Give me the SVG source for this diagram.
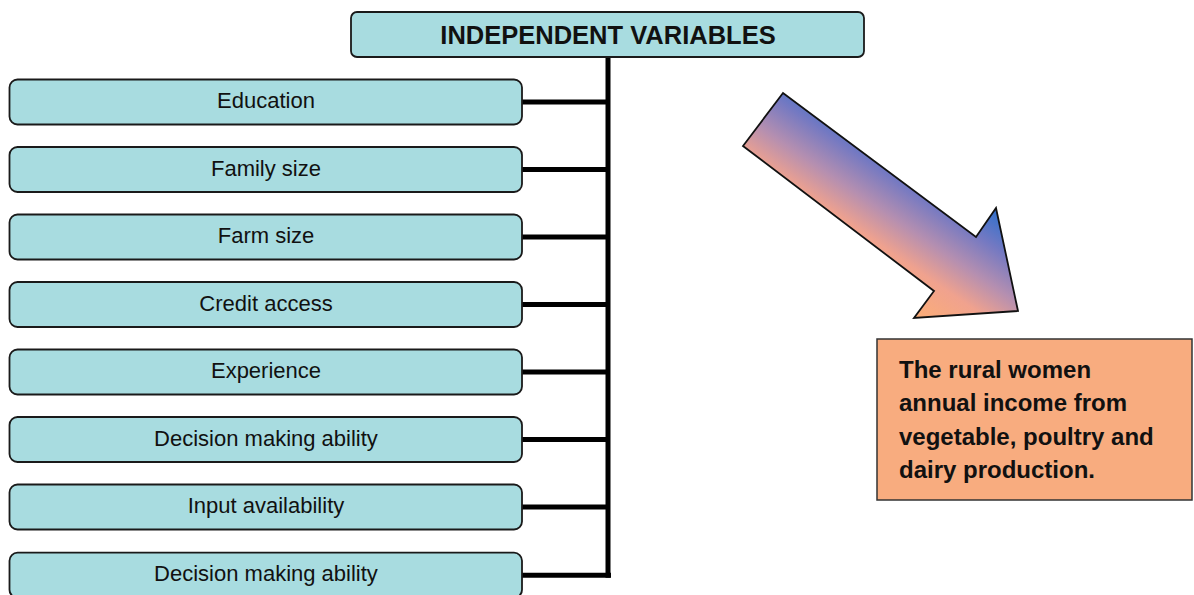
<svg xmlns="http://www.w3.org/2000/svg" width="1194" height="595" viewBox="0 0 1194 595">
<style>
.box{fill:#A8DCE0;stroke:#1a1a1a;stroke-width:1.8}
.lbl{font-family:"Liberation Sans",Arial,sans-serif;font-size:22px;fill:#111;text-anchor:middle}
.hdr{font-family:"Liberation Sans",Arial,sans-serif;font-size:25.5px;font-weight:bold;fill:#111;text-anchor:middle}
.out{font-family:"Liberation Sans",Arial,sans-serif;font-size:24px;font-weight:bold;fill:#111}
.conn{stroke:#000;stroke-width:5;fill:none}
</style>
<defs>
<linearGradient id="arrowGrad" gradientUnits="userSpaceOnUse" x1="914" y1="318" x2="991" y2="205">
<stop offset="0" stop-color="#FCAE76"/>
<stop offset="0.3" stop-color="#F0A28E"/>
<stop offset="0.52" stop-color="#B58FB0"/>
<stop offset="0.76" stop-color="#7479C2"/>
<stop offset="1" stop-color="#2F70CC"/>
</linearGradient>
</defs>
<rect width="1194" height="595" fill="#fff"/>
<g id="connectors">
<line class="conn" x1="608" y1="57" x2="608" y2="577.7" stroke-width="6"/>
<line class="conn" x1="522" y1="102" x2="608" y2="102"/>
<line class="conn" x1="522" y1="169.5" x2="608" y2="169.5"/>
<line class="conn" x1="522" y1="237" x2="608" y2="237"/>
<line class="conn" x1="522" y1="304.5" x2="608" y2="304.5"/>
<line class="conn" x1="522" y1="372" x2="608" y2="372"/>
<line class="conn" x1="522" y1="439.5" x2="608" y2="439.5"/>
<line class="conn" x1="522" y1="507" x2="608" y2="507"/>
<line class="conn" x1="522" y1="575.2" x2="611" y2="575.2"/>
</g>
<g id="header">
<rect class="box" x="351" y="12" width="513" height="45" rx="6"/>
<text class="hdr" x="608" y="44">INDEPENDENT VARIABLES</text>
</g>
<g id="n1"><rect class="box" x="9.5" y="79.5" width="512.5" height="45" rx="8"/><text class="lbl" x="266" y="108">Education</text></g>
<g id="n2"><rect class="box" x="9.5" y="147" width="512.5" height="45" rx="8"/><text class="lbl" x="266" y="175.5">Family size</text></g>
<g id="n3"><rect class="box" x="9.5" y="214.5" width="512.5" height="45" rx="8"/><text class="lbl" x="266" y="243">Farm size</text></g>
<g id="n4"><rect class="box" x="9.5" y="282" width="512.5" height="45" rx="8"/><text class="lbl" x="266" y="310.5">Credit access</text></g>
<g id="n5"><rect class="box" x="9.5" y="349.5" width="512.5" height="45" rx="8"/><text class="lbl" x="266" y="378">Experience</text></g>
<g id="n6"><rect class="box" x="9.5" y="417" width="512.5" height="45" rx="8"/><text class="lbl" x="266" y="445.5">Decision making ability</text></g>
<g id="n7"><rect class="box" x="9.5" y="484.5" width="512.5" height="45" rx="8"/><text class="lbl" x="266" y="513">Input availability</text></g>
<g id="n8"><rect class="box" x="9.5" y="552.7" width="512.5" height="45" rx="8"/><text class="lbl" x="266" y="581">Decision making ability</text></g>
<g id="arrow">
<polygon points="783,93 743,146 934,291 914,318 1018,311 996,208 976,237" fill="url(#arrowGrad)" stroke="#111" stroke-width="1.8" stroke-linejoin="miter"/>
</g>
<g id="outcome">
<rect x="877" y="339" width="315" height="161" fill="#F8AC7F" stroke="#333" stroke-width="1.5"/>
<text class="out" x="899" y="377.5">The rural women</text>
<text class="out" x="899" y="411">annual income from</text>
<text class="out" x="899" y="444.5">vegetable, poultry and</text>
<text class="out" x="899" y="478">dairy production.</text>
</g>
</svg>
